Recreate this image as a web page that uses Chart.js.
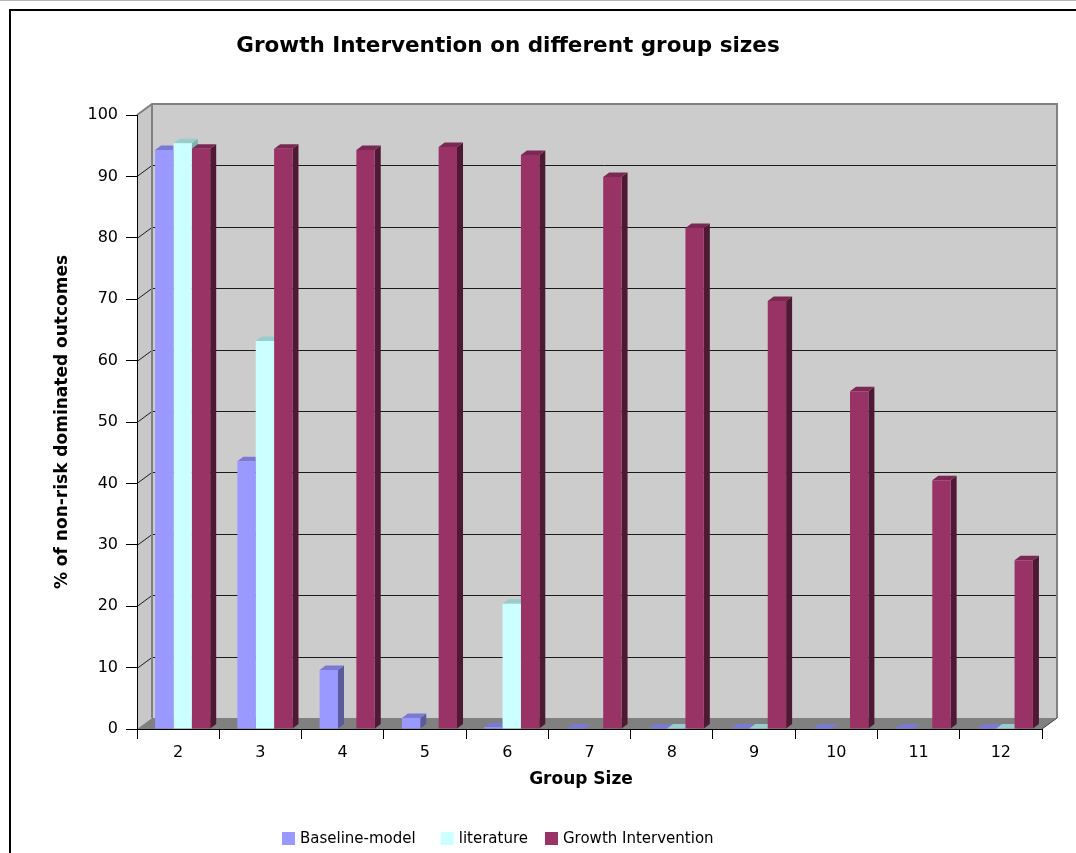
<!DOCTYPE html>
<html>
<head>
<meta charset="utf-8">
<title>Growth Intervention on different group sizes</title>
<script src="https://cdn.jsdelivr.net/npm/chart.js@4.4.1/dist/chart.umd.min.js"></script>
<style>
  html, body { margin: 0; padding: 0; background: #ffffff; }
  canvas { display: block; }
</style>
</head>
<body>
<canvas id="chart" width="1076" height="853"></canvas>
<script>
// ---- data ----
const groupSizes = ['2', '3', '4', '5', '6', '7', '8', '9', '10', '11', '12'];
const baselineModel = [94.3, 43.6, 9.6, 1.8, 0.3, 0.1, 0.1, 0.1, 0.1, 0.1, 0.1];
const literature = [95.4, 63.2, 0, 0, 20.4, 0, 0.1, 0.1, 0, 0, 0.1];
const growthIntervention = [94.5, 94.5, 94.3, 94.8, 93.5, 89.9, 81.6, 69.7, 55.0, 40.5, 27.5];
const valueTicks = [0, 10, 20, 30, 40, 50, 60, 70, 80, 90, 100];

const chartTitle = 'Growth Intervention on different group sizes';
const xTitle = 'Group Size';
const yTitle = '% of non-risk dominated outcomes';
const seriesNames = ['Baseline-model', 'literature', 'Growth Intervention'];

// ---- look ----
const FONT = '"DejaVu Sans", Verdana, sans-serif';
const WALL_DX = 15, WALL_DY = -11;    // depth of the walls / floor
const BAR_DX = 6, BAR_DY = -4.5;      // depth of each column
const BAR_SHIFT = 4.5;                // columns sit a little into the floor
const faces = [
  { front: '#9999ff', top: '#7a7ad2', side: '#5a5a9c' },
  { front: '#ccffff', top: '#99cccc', side: '#7fb0b0' },
  { front: '#993366', top: '#7a2952', side: '#4d1933' }
];

// walls, floor and back-wall gridlines, painted before the axes
const wallsPlugin = {
  id: 'walls',
  beforeDraw(chart) {
    const { ctx, chartArea: a, scales: { y } } = chart;
    ctx.save();
    ctx.fillStyle = '#ffffff';
    ctx.fillRect(0, 0, chart.width, chart.height);

    // outer frame
    ctx.fillStyle = '#b4b4b4';
    ctx.fillRect(0, 0, chart.width, 1);
    ctx.strokeStyle = '#000000';
    ctx.lineWidth = 2;
    ctx.strokeRect(10, 10, chart.width + 40, chart.height + 40);

    const L = a.left, R = a.right, T = a.top, B = a.bottom;
    // back wall
    ctx.fillStyle = '#cccccc';
    ctx.fillRect(L + WALL_DX, T + WALL_DY, R - L, B - T);
    // left wall
    ctx.fillStyle = '#c8c8c8';
    ctx.beginPath();
    ctx.moveTo(L, T); ctx.lineTo(L + WALL_DX, T + WALL_DY);
    ctx.lineTo(L + WALL_DX, B + WALL_DY); ctx.lineTo(L, B);
    ctx.closePath(); ctx.fill();

    // gridlines across the left wall and the back wall
    ctx.strokeStyle = '#1a1a1a';
    ctx.lineWidth = 1;
    valueTicks.forEach(v => {
      if (v === 0 || v === 100) return;
      const py = Math.round(y.getPixelForValue(v)) + 0.5;
      ctx.beginPath();
      ctx.moveTo(L, py);
      ctx.lineTo(L + WALL_DX, py + WALL_DY);
      ctx.lineTo(R + WALL_DX, py + WALL_DY);
      ctx.stroke();
    });

    // floor
    ctx.fillStyle = '#808080';
    ctx.beginPath();
    ctx.moveTo(L, B); ctx.lineTo(R, B);
    ctx.lineTo(R + WALL_DX, B + WALL_DY); ctx.lineTo(L + WALL_DX, B + WALL_DY);
    ctx.closePath(); ctx.fill();

    // wall edges
    ctx.strokeStyle = '#808080';
    ctx.lineWidth = 2;
    ctx.beginPath();
    ctx.moveTo(L, T); ctx.lineTo(L + WALL_DX, T + WALL_DY);
    ctx.lineTo(R + WALL_DX, T + WALL_DY); ctx.lineTo(R + WALL_DX, B + WALL_DY);
    ctx.moveTo(L + WALL_DX, T + WALL_DY); ctx.lineTo(L + WALL_DX, B + WALL_DY);
    ctx.stroke();
    ctx.strokeStyle = '#404040';
    ctx.lineWidth = 1;
    ctx.beginPath();
    ctx.moveTo(R, B); ctx.lineTo(R + WALL_DX, B + WALL_DY);
    ctx.stroke();
    ctx.restore();
  }
};

// top and side faces of every column, then the library paints the fronts
const columnsPlugin = {
  id: 'columns3d',
  beforeDatasetsDraw(chart) {
    const ctx = chart.ctx;
    ctx.save();
    ctx.translate(BAR_SHIFT, 0);
    const n = chart.data.labels.length;
    for (let i = 0; i < n; i++) {
      chart.data.datasets.forEach((ds, d) => {
        const meta = chart.getDatasetMeta(d);
        const el = meta.data[i];
        if (!el || !ds.data[i]) return;
        const { x, y, base, width } = el.getProps(['x', 'y', 'base', 'width'], true);
        const x0 = x - width / 2, x1 = x + width / 2;
        const f = faces[d];
        ctx.fillStyle = f.side;
        ctx.beginPath();
        ctx.moveTo(x1, y); ctx.lineTo(x1 + BAR_DX, y + BAR_DY);
        ctx.lineTo(x1 + BAR_DX, base + BAR_DY); ctx.lineTo(x1, base);
        ctx.closePath(); ctx.fill();
        ctx.fillStyle = f.top;
        ctx.beginPath();
        ctx.moveTo(x0, y); ctx.lineTo(x1, y);
        ctx.lineTo(x1 + BAR_DX, y + BAR_DY); ctx.lineTo(x0 + BAR_DX, y + BAR_DY);
        ctx.closePath(); ctx.fill();
      });
    }
  },
  afterDatasetsDraw(chart) {
    chart.ctx.restore();
  }
};

// chart title, x-axis title and legend
const textPlugin = {
  id: 'texts',
  afterDraw(chart) {
    const ctx = chart.ctx;
    ctx.save();
    ctx.fillStyle = '#000000';
    ctx.font = 'bold 21.5px ' + FONT;
    ctx.textAlign = 'center';
    ctx.textBaseline = 'middle';
    ctx.fillText(chartTitle, 508, 46);

    ctx.font = 'bold 17px ' + FONT;
    ctx.fillText(xTitle, 581, 780);

    ctx.font = '15px ' + FONT;
    ctx.textAlign = 'left';
    const box = 13, gapText = 5, gaps = [25, 17];
    let x = 282;
    const yBox = 832;
    chart.data.datasets.forEach((ds, d) => {
      ctx.fillStyle = ds.backgroundColor;
      ctx.fillRect(x, yBox, box, box);
      ctx.fillStyle = '#000000';
      ctx.fillText(ds.label, x + box + gapText, yBox + box / 2 + 1);
      x += box + gapText + ctx.measureText(ds.label).width + (gaps[d] || 0);
    });
    ctx.restore();
  }
};

const datasets = [baselineModel, literature, growthIntervention].map((values, d) => ({
  label: seriesNames[d],
  data: values,
  backgroundColor: faces[d].front,
  borderWidth: 0,
  categoryPercentage: 0.67,
  barPercentage: 1.0,
  clip: false
}));

new Chart(document.getElementById('chart'), {
  type: 'bar',
  data: { labels: groupSizes, datasets },
  plugins: [wallsPlugin, columnsPlugin, textPlugin],
  options: {
    responsive: false,
    animation: false,
    devicePixelRatio: 1,
    layout: { padding: { left: 52, top: 115, right: 34, bottom: 63 } },
    plugins: { legend: { display: false }, title: { display: false }, tooltip: { enabled: false } },
    scales: {
      x: {
        grid: { drawOnChartArea: false, drawTicks: true, tickLength: 10, color: '#000000', offset: true },
        border: { display: true, color: '#000000', width: 1 },
        ticks: { color: '#000000', font: { family: FONT, size: 16 }, padding: 4, maxRotation: 0 },
        title: { display: false },
        afterFit(scale) { scale.height = 61; }
      },
      y: {
        min: 0, max: 100,
        afterBuildTicks(scale) { scale.ticks = valueTicks.map(v => ({ value: v })); },
        grid: { drawOnChartArea: false, drawTicks: true, tickLength: 11, color: '#000000' },
        border: { display: true, color: '#000000', width: 1 },
        ticks: { color: '#000000', font: { family: FONT, size: 16 }, padding: 8 },
        title: { display: true, text: yTitle, color: '#000000', font: { family: FONT, size: 17, weight: 'bold' }, padding: 0 },
        afterFit(scale) { scale.width = 85; }
      }
    }
  }
});
</script>
</body>
</html>
